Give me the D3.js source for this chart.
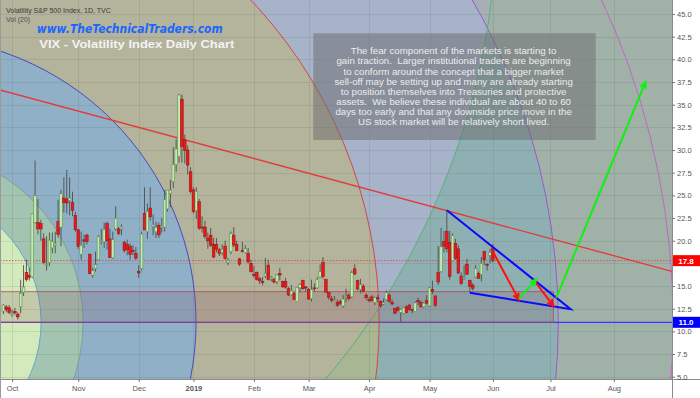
<!DOCTYPE html>
<meta charset="utf-8">
<script src="https://d3js.org/d3.v7.min.js"></script>
<style>
  body { margin: 0; background: #fff; }
  svg { display: block; }
</style>
<div id="my_dataviz"></div>
<script>

// ---- data: VIX daily candles [date, open, high, low, close] ----
const vixDaily = [
  ["2018-09-26",12.2,13.0,11.9,12.9], ["2018-09-27",12.7,12.9,12.1,12.4], ["2018-09-28",12.6,12.9,11.9,12.1],
  ["2018-10-01",11.9,12.4,11.6,12.0], ["2018-10-02",12.2,12.6,11.8,12.05], ["2018-10-03",11.9,12.1,11.3,11.6],
  ["2018-10-04",12.7,15.7,12.0,14.2], ["2018-10-05",14.3,17.3,13.9,14.9], ["2018-10-08",16.5,17.9,15.5,15.7],
  ["2018-10-09",16.2,17.0,15.6,15.95], ["2018-10-10",16.0,23.0,15.9,22.96], ["2018-10-11",22.0,28.84,21.9,24.98],
  ["2018-10-12",22.0,24.6,20.7,21.3], ["2018-10-15",21.9,22.3,20.0,21.3], ["2018-10-16",20.2,20.8,17.4,17.6],
  ["2018-10-17",17.3,20.5,16.7,17.4], ["2018-10-18",17.6,20.9,17.2,20.06], ["2018-10-19",19.2,20.9,18.6,19.9],
  ["2018-10-22",19.5,21.0,18.6,19.64], ["2018-10-23",22.1,24.5,20.3,20.7], ["2018-10-24",21.5,25.6,19.4,25.2],
  ["2018-10-25",24.7,27.0,23.1,24.2], ["2018-10-26",24.6,27.8,23.0,24.16], ["2018-10-29",24.4,27.0,22.8,24.7],
  ["2018-10-30",24.2,25.4,22.7,23.35], ["2018-10-31",22.8,23.2,21.0,21.2],
  ["2018-11-01",21.2,21.3,19.1,19.34], ["2018-11-02",18.5,21.0,17.9,19.5], ["2018-11-05",20.1,20.7,19.2,19.96],
  ["2018-11-06",20.6,20.8,19.6,19.9], ["2018-11-07",18.5,18.6,16.3,16.36], ["2018-11-08",16.2,17.0,15.9,16.7],
  ["2018-11-09",16.9,18.8,16.6,17.36], ["2018-11-12",17.9,20.6,17.9,20.45], ["2018-11-13",20.0,21.3,19.6,20.02],
  ["2018-11-14",19.9,22.0,19.2,21.25], ["2018-11-15",21.9,22.1,19.0,19.98], ["2018-11-16",20.2,21.3,18.1,18.14],
  ["2018-11-19",18.1,21.0,18.0,20.1], ["2018-11-20",21.3,23.8,21.1,22.48], ["2018-11-21",21.3,21.5,20.6,20.8],
  ["2018-11-23",21.3,21.8,20.6,21.52], ["2018-11-26",19.8,20.0,18.7,18.9], ["2018-11-27",19.6,20.1,18.4,19.02],
  ["2018-11-28",19.4,19.7,17.9,18.49], ["2018-11-29",18.9,19.5,18.4,18.79], ["2018-11-30",18.6,19.3,17.9,18.07],
  ["2018-12-03",16.6,17.3,15.9,16.44], ["2018-12-04",16.9,21.0,16.7,20.74], ["2018-12-06",23.0,25.9,21.2,21.19],
  ["2018-12-07",21.0,24.1,20.2,23.23], ["2018-12-10",23.6,25.9,22.2,22.64], ["2018-12-11",21.6,22.9,20.6,21.76],
  ["2018-12-12",21.0,22.1,20.3,21.46], ["2018-12-13",21.7,22.0,20.3,20.65], ["2018-12-14",21.5,22.5,20.9,21.63],
  ["2018-12-17",21.5,25.6,21.0,24.52], ["2018-12-18",23.5,25.6,23.2,25.58], ["2018-12-19",25.2,26.7,23.7,25.58],
  ["2018-12-20",26.5,30.3,25.8,28.38], ["2018-12-21",28.4,31.2,27.6,30.11], ["2018-12-24",29.3,36.2,28.6,36.07],
  ["2018-12-26",35.6,36.1,28.6,30.41], ["2018-12-27",31.1,31.7,28.5,29.96], ["2018-12-28",30.0,30.5,27.3,28.34],
  ["2018-12-31",27.6,28.1,25.2,25.42],
  ["2019-01-02",25.6,25.9,23.0,23.22], ["2019-01-03",23.3,25.9,22.4,25.45], ["2019-01-04",24.3,24.6,21.2,21.38],
  ["2019-01-07",21.5,22.7,20.9,21.4], ["2019-01-08",21.5,22.2,20.2,20.47], ["2019-01-09",20.3,20.9,19.1,19.98],
  ["2019-01-10",20.6,21.4,19.3,19.5], ["2019-01-11",19.6,20.3,18.1,18.19], ["2019-01-14",19.6,20.3,18.7,19.07],
  ["2019-01-15",19.0,19.2,18.3,18.6], ["2019-01-16",18.7,19.6,18.4,19.04], ["2019-01-17",19.4,20.0,17.9,18.06],
  ["2019-01-18",17.6,18.1,17.3,17.8], ["2019-01-22",18.8,21.0,18.5,20.8], ["2019-01-23",20.6,21.5,19.3,19.52],
  ["2019-01-24",19.6,20.0,18.9,18.89], ["2019-01-25",18.0,18.1,17.2,17.42], ["2019-01-28",18.9,19.9,18.7,18.87],
  ["2019-01-29",18.7,19.5,18.6,19.13], ["2019-01-30",18.6,19.2,17.5,17.66], ["2019-01-31",17.5,17.9,16.5,16.57],
  ["2019-02-01",16.3,17.2,15.9,16.14], ["2019-02-04",16.5,16.6,15.6,15.73], ["2019-02-05",15.8,16.0,15.2,15.57],
  ["2019-02-06",15.5,16.0,15.1,15.38], ["2019-02-07",16.1,18.1,15.9,16.37], ["2019-02-08",17.3,17.9,15.6,15.72],
  ["2019-02-11",15.8,16.1,15.5,15.97], ["2019-02-12",15.7,15.9,15.3,15.43], ["2019-02-13",15.5,16.3,15.2,16.22],
  ["2019-02-14",16.4,17.0,15.6,16.22], ["2019-02-15",15.5,15.6,14.8,14.91], ["2019-02-19",15.5,15.9,14.7,14.88],
  ["2019-02-20",14.7,14.9,13.9,14.02], ["2019-02-21",14.0,15.1,13.9,14.46], ["2019-02-22",14.2,14.3,13.5,13.51],
  ["2019-02-25",13.3,14.9,13.3,14.85], ["2019-02-26",14.8,15.3,14.3,15.17], ["2019-02-27",15.6,15.7,14.6,14.7],
  ["2019-02-28",14.9,15.0,14.4,14.78],
  ["2019-03-01",14.6,14.8,13.5,13.57], ["2019-03-04",13.6,15.7,13.3,14.63], ["2019-03-05",14.8,15.3,14.4,14.74],
  ["2019-03-06",14.8,16.0,14.7,15.74], ["2019-03-07",16.0,17.4,15.9,16.59], ["2019-03-08",17.6,18.2,15.8,16.05],
  ["2019-03-11",15.7,15.8,14.3,14.33], ["2019-03-12",14.3,14.3,13.5,13.77], ["2019-03-13",13.6,13.9,13.2,13.41],
  ["2019-03-14",13.4,13.9,13.3,13.5], ["2019-03-15",13.2,13.5,12.7,12.88], ["2019-03-18",13.3,13.5,12.9,13.1],
  ["2019-03-19",12.8,14.0,12.6,13.56], ["2019-03-20",13.8,14.7,13.2,13.91], ["2019-03-21",14.0,14.2,13.4,13.63],
  ["2019-03-22",13.8,16.7,13.7,16.48], ["2019-03-25",16.9,17.4,16.2,16.33], ["2019-03-26",15.6,15.7,14.5,14.68],
  ["2019-03-27",14.6,15.8,14.2,15.15], ["2019-03-28",15.0,15.2,14.3,14.43], ["2019-03-29",14.0,14.2,13.5,13.71],
  ["2019-04-01",13.5,13.8,13.2,13.4], ["2019-04-02",13.8,14.0,13.3,13.36], ["2019-04-03",13.2,13.8,12.9,13.74],
  ["2019-04-04",13.7,14.0,13.2,13.58], ["2019-04-05",13.3,13.4,12.6,12.82], ["2019-04-08",13.0,13.6,12.9,13.18],
  ["2019-04-09",13.5,14.5,13.4,14.28], ["2019-04-10",14.0,14.2,13.2,13.3], ["2019-04-11",13.2,13.5,12.9,13.02],
  ["2019-04-12",12.5,12.6,11.9,12.01], ["2019-04-15",12.6,12.8,12.2,12.32], ["2019-04-16",12.1,12.5,11.03,12.4],
  ["2019-04-17",12.0,12.7,11.9,12.6], ["2019-04-18",12.7,12.9,12.0,12.09], ["2019-04-22",12.9,13.0,12.3,12.42],
  ["2019-04-23",12.4,12.5,12.0,12.28], ["2019-04-24",12.2,13.3,12.2,13.14], ["2019-04-25",13.4,13.7,12.9,13.25],
  ["2019-04-26",13.2,13.4,12.6,12.73], ["2019-04-29",12.7,13.2,12.6,13.11], ["2019-04-30",13.4,14.0,13.0,13.12],
  ["2019-05-01",12.8,14.9,12.7,14.8], ["2019-05-02",14.6,15.6,14.1,14.42], ["2019-05-03",13.9,14.0,12.7,12.87],
  ["2019-05-06",16.5,19.4,15.1,15.44], ["2019-05-07",16.6,21.4,16.5,19.32], ["2019-05-08",19.9,21.1,18.7,19.4],
  ["2019-05-09",21.0,23.35,18.7,19.1], ["2019-05-10",19.8,21.1,15.7,16.04], ["2019-05-13",17.8,20.8,17.7,20.55],
  ["2019-05-14",19.7,20.2,17.9,18.06], ["2019-05-15",19.1,19.5,16.3,16.44], ["2019-05-16",16.1,16.5,15.1,15.29],
  ["2019-05-17",15.9,17.3,15.7,15.96], ["2019-05-20",17.4,18.0,16.2,16.31], ["2019-05-21",15.6,15.7,14.3,14.95],
  ["2019-05-22",15.1,15.3,14.5,14.75], ["2019-05-23",16.0,17.3,15.9,16.92], ["2019-05-24",16.4,16.6,15.8,15.85],
  ["2019-05-28",16.3,18.2,15.5,17.5], ["2019-05-29",18.8,18.9,17.3,17.9], ["2019-05-30",17.4,17.5,16.7,17.3],
  ["2019-05-31",18.4,19.1,17.5,18.71], ["2019-06-03",19.2,19.6,17.6,17.8]
];

const holidays = ["2018-11-22","2018-12-05","2018-12-25","2019-01-01","2019-01-21","2019-02-18",
                  "2019-04-19","2019-05-27","2019-07-04","2019-09-02"];
const yTicks = [5, 7.5, 10, 12.5, 15, 17.5, 20, 22.5, 25, 27.5, 30, 32.5, 35, 37.5, 40, 42.5, 45];
const monthTicks = [["Oct","2018-10-01"],["Nov","2018-11-01"],["Dec","2018-12-03"],["2019","2019-01-02"],
                    ["Feb","2019-02-01"],["Mar","2019-03-01"],["Apr","2019-04-01"],["May","2019-05-01"],
                    ["Jun","2019-06-03"],["Jul","2019-07-01"],["Aug","2019-08-01"]];

const lastPrice = 17.8;
const supportLevel = 11.0;
const supportZone = { end: "2019-07-02", low: 11.0, high: 14.38 };
const trendLine = [["2018-09-26", 36.52], ["2019-08-29", 16.63]];
const wedge = [["2019-05-09", 23.35], ["2019-07-11", 12.45], ["2019-05-21", 14.27]];
const redArrows = [[["2019-06-03", 18.8], ["2019-06-14", 13.5]], [["2019-06-21", 15.75], ["2019-07-02", 12.8]]];
const greenArrows = [[["2019-06-14", 13.6], ["2019-06-24", 15.7]], [["2019-07-03", 13.7], ["2019-08-16", 37.5]]];

// fib circles: center in (bar index, price), radii in bars
const fibCenter = [-32.4, 11.0];
const fibRadii = [45.5, 60.1, 99.3, 162.9, 225.1, 265.0];
const fibPricePerBar = 0.3174;
const fibFillIn  = ["#d3eabd", "#a3c4b1", "#8fb0c7", "#b4b39c", "#a6b3c8", "#a6aeb6", "#a2b1a8"];
const fibFillOut = ["#d3eabd", "#a3c4b1", "#8fb0c7", "#a8b693", "#8fb0b3", "#a0b1a8", "#a2b2a8"];
const fibStroke  = ["#6aa4d4", "#7f9f98", "#4a48c0", "#d24848", "#a155d0", "#c266c4"];
const outerCircle = { center: [-79.7, 56.25], radius: 251.1 };

const noteLines = [
  "The fear component of the markets is starting to",
  "gain traction.  Larger institutional traders are beginning",
  "to conform around the concept that a bigger market",
  "sell-off may be setting up and many are already starting",
  "to position themselves into Treasuries and protective",
  "assets.  We believe these individual are about 40 to 60",
  "days too early and that any downside price move in the",
  "US stock market will be relatively short lived."
];

// ---- trading calendar (bar index) ----
const tradingDays = [];
for (let d = new Date(Date.UTC(2018, 8, 26)); d <= new Date(Date.UTC(2019, 8, 30)); d.setUTCDate(d.getUTCDate() + 1)) {
  const s = d.toISOString().slice(0, 10), wd = d.getUTCDay();
  if (wd > 0 && wd < 6 && holidays.indexOf(s) < 0) tradingDays.push(s);
}
const dayIndex = new Map(tradingDays.map((d, i) => [d, i]));
const bi = d => typeof d === "number" ? d : dayIndex.get(d);

// ---- layout ----
const W = 700, H = 398, PW = 672, PH = 379;
const x = d3.scaleLinear().domain([-1.18, 232.2]).range([0, PW]);
const y = d3.scaleLinear().domain([5, 45]).range([376.7, 14]);

const svg = d3.select("#my_dataviz").append("svg").attr("width", W).attr("height", H)
  .style("font-family", "'Liberation Sans', Arial, sans-serif");
const defs = svg.append("defs");
defs.append("clipPath").attr("id", "plotClip").append("rect").attr("width", PW).attr("height", PH);

// outer circle geometry
const oc = { cx: x(outerCircle.center[0]), cy: y(outerCircle.center[1]),
             r: x(outerCircle.center[0] + outerCircle.radius) - x(outerCircle.center[0]) };
defs.append("clipPath").attr("id", "outsideG").append("path")
  .attr("clip-rule", "evenodd")
  .attr("d", `M0,0H${PW}V${PH}H0Z M${oc.cx - oc.r},${oc.cy} a${oc.r},${oc.r} 0 1,0 ${2 * oc.r},0 a${oc.r},${oc.r} 0 1,0 ${-2 * oc.r},0Z`);

svg.append("rect").attr("width", W).attr("height", H).attr("fill", "#fff");
const plot = svg.append("g").attr("clip-path", "url(#plotClip)");

const fc = { cx: x(fibCenter[0]), cy: y(fibCenter[1]) };
const rx = r => x(fibCenter[0] + r) - x(fibCenter[0]);
const ry = r => y(fibCenter[1]) - y(fibCenter[1] + r * fibPricePerBar);

function drawRings(g, fills) {
  g.append("rect").attr("width", PW).attr("height", PH).attr("fill", fills[fills.length - 1]);
  fibRadii.slice().reverse().forEach((r, k) => {
    const i = fibRadii.length - 1 - k;
    g.append("ellipse").attr("cx", fc.cx).attr("cy", fc.cy).attr("rx", rx(r)).attr("ry", ry(r))
      .attr("fill", fills[i]);
  });
}
drawRings(plot.append("g"), fibFillIn);
drawRings(plot.append("g").attr("clip-path", "url(#outsideG)"), fibFillOut);

// grid
const grid = plot.append("g").attr("stroke", "rgba(70,90,80,0.13)").attr("stroke-width", 1);
yTicks.forEach(v => grid.append("line").attr("x1", 0).attr("x2", PW).attr("y1", Math.round(y(v)) + 0.5).attr("y2", Math.round(y(v)) + 0.5));
monthTicks.forEach(m => grid.append("line").attr("y1", 0).attr("y2", PH)
  .attr("x1", Math.round(x(bi(m[1]))) + 0.5).attr("x2", Math.round(x(bi(m[1]))) + 0.5));

// ring outlines
fibRadii.forEach((r, i) => {
  plot.append("ellipse").attr("cx", fc.cx).attr("cy", fc.cy).attr("rx", rx(r)).attr("ry", ry(r))
    .attr("fill", "none").attr("stroke", fibStroke[i]).attr("stroke-width", 1);
});
plot.append("circle").attr("cx", oc.cx).attr("cy", oc.cy).attr("r", oc.r)
  .attr("fill", "none").attr("stroke", "#58b07a").attr("stroke-width", 1);

// support zone + level lines
plot.append("line").attr("x1", 0).attr("x2", PW).attr("y1", y(supportLevel)).attr("y2", y(supportLevel))
  .attr("stroke", "#3a3aff").attr("stroke-width", 1.2);
plot.append("rect")
  .attr("x", -2).attr("y", y(supportZone.high))
  .attr("width", x(bi(supportZone.end)) + 2).attr("height", y(supportZone.low) - y(supportZone.high))
  .attr("fill", "rgba(140,85,110,0.22)").attr("stroke", "rgba(175,70,80,0.75)").attr("stroke-width", 1);
plot.append("line").attr("x1", 0).attr("x2", PW).attr("y1", y(lastPrice)).attr("y2", y(lastPrice))
  .attr("stroke", "#e03a3a").attr("stroke-width", 0.8).attr("stroke-dasharray", "1.5,1.5");

// trend line extended across the plot
const t0 = [x(bi(trendLine[0][0])), y(trendLine[0][1])], t1 = [x(bi(trendLine[1][0])), y(trendLine[1][1])];
const slope = (t1[1] - t0[1]) / (t1[0] - t0[0]);
plot.append("line").attr("x1", 0).attr("y1", t0[1] - slope * t0[0]).attr("x2", PW).attr("y2", t0[1] + slope * (PW - t0[0]))
  .attr("stroke", "#e23c3c").attr("stroke-width", 1.4);

// candles
const bw = 2.6;
const cg = plot.append("g");
vixDaily.forEach(([d, o, h, l, c]) => {
  const cx = x(bi(d)), up = c >= o;
  cg.append("line").attr("x1", cx).attr("x2", cx).attr("y1", y(h)).attr("y2", y(l))
    .attr("stroke", "#4d4d4d").attr("stroke-width", 0.9);
  const top = y(Math.max(o, c)), bot = y(Math.min(o, c));
  cg.append("rect").attr("x", cx - bw / 2).attr("y", top).attr("width", bw).attr("height", Math.max(1, bot - top))
    .attr("fill", up ? "#c4e8b0" : "#ee1818").attr("stroke", up ? "#5f9455" : "#9a1515").attr("stroke-width", 0.6);
});

// note box
plot.append("rect").attr("x", 313.3).attr("y", 33.3).attr("width", 282.4).attr("height", 106.7)
  .attr("fill", "rgba(105,108,110,0.5)");
const note = plot.append("text").attr("text-anchor", "middle").attr("fill", "#ececec")
  .attr("font-size", "9.7px").style("white-space", "pre");
noteLines.forEach((t, i) => note.append("tspan").attr("x", 453.6).attr("y", 54.3 + i * 10.1).text(t));

// wedge + arrows
const pt = p => [x(bi(p[0])), y(p[1])];
plot.append("path").attr("d", d3.line()(wedge.map(pt)))
  .attr("fill", "none").attr("stroke", "#0a0aff").attr("stroke-width", 2).attr("stroke-linejoin", "miter");
function arrow(a, b, color) {
  const [x0, y0] = pt(a), [x1, y1] = pt(b);
  const ang = Math.atan2(y1 - y0, x1 - x0), L = 7, s = 0.42;
  plot.append("path")
    .attr("d", `M${x0},${y0}L${x1},${y1}M${x1 - L * Math.cos(ang - s)},${y1 - L * Math.sin(ang - s)}L${x1},${y1}L${x1 - L * Math.cos(ang + s)},${y1 - L * Math.sin(ang + s)}`)
    .attr("fill", "none").attr("stroke", color).attr("stroke-width", 2);
}
redArrows.forEach(a => arrow(a[0], a[1], "#ff1010"));
greenArrows.forEach(a => arrow(a[0], a[1], "#12f012"));

// headers
svg.append("text").attr("x", 6).attr("y", 13.3).attr("font-size", "7px").attr("fill", "#3a3a3a")
  .text("Volatility S&P 500 Index, 1D, TVC");
svg.append("text").attr("x", 6).attr("y", 22.3).attr("font-size", "7px").attr("fill", "#505050").text("Vol (20)");
svg.append("text").attr("x", 36.7).attr("y", 33.3).attr("font-size", "12px").attr("font-weight", "bold")
  .attr("font-style", "italic").attr("font-family", "'DejaVu Sans', Verdana, sans-serif").attr("fill", "#1a66ff")
  .attr("textLength", 186).attr("lengthAdjust", "spacingAndGlyphs").text("www.TheTechnicalTraders.com");
svg.append("text").attr("x", 39.3).attr("y", 48.3).attr("font-size", "11px").attr("font-weight", "bold")
  .attr("fill", "#f3f3f3").attr("textLength", 195).attr("lengthAdjust", "spacingAndGlyphs")
  .text("VIX - Volatility Index Daily Chart");

// axes frame
svg.append("line").attr("x1", PW + 0.5).attr("x2", PW + 0.5).attr("y1", 0).attr("y2", H).attr("stroke", "#8a8a8a");
svg.append("line").attr("x1", 0).attr("x2", W).attr("y1", PH + 0.5).attr("y2", PH + 0.5).attr("stroke", "#8a8a8a");
svg.append("line").attr("x1", 0.5).attr("x2", 0.5).attr("y1", 0).attr("y2", H).attr("stroke", "#9a9a9a");

// price labels cover the axis ticks they sit on (as in the original)
const priceTags = [[lastPrice, "#ff0000"], [supportLevel, "#0000ff"]];
const hidden = v => priceTags.some(([p]) => Math.abs(y(p) - y(v)) < 8);

const yAxis = svg.append("g").attr("transform", `translate(${PW},0)`)
  .call(d3.axisRight(y).tickValues(yTicks.filter(v => !hidden(v))).tickFormat(d3.format(".1f")).tickSize(3).tickPadding(2));
yAxis.select(".domain").remove();
yAxis.selectAll("line").attr("stroke", "#777");
yAxis.selectAll("text").attr("fill", "#555").attr("font-size", "7.5px")
  .attr("font-family", "'Liberation Sans', Arial, sans-serif");

const xAxis = svg.append("g").attr("transform", `translate(0,${PH})`)
  .call(d3.axisBottom(x).tickValues(monthTicks.map(m => bi(m[1])))
    .tickFormat((d, i) => monthTicks[i][0]).tickSize(3).tickPadding(4));
xAxis.select(".domain").remove();
xAxis.selectAll("line").attr("stroke", "#777");
xAxis.selectAll("text").attr("fill", "#555").attr("font-size", "7.5px")
  .attr("font-family", "'Liberation Sans', Arial, sans-serif")
  .attr("font-weight", (d, i) => monthTicks[i][0] === "2019" ? "bold" : null);

priceTags.forEach(([v, col]) => {
  svg.append("rect").attr("x", PW + 1).attr("y", y(v) - 5.5).attr("width", W - PW - 1).attr("height", 11).attr("fill", col);
  svg.append("text").attr("x", PW + 14).attr("y", y(v) + 3).attr("text-anchor", "middle")
    .attr("font-size", "8px").attr("font-weight", "bold").attr("fill", "#fff").text(v.toFixed(1));
});

</script>
